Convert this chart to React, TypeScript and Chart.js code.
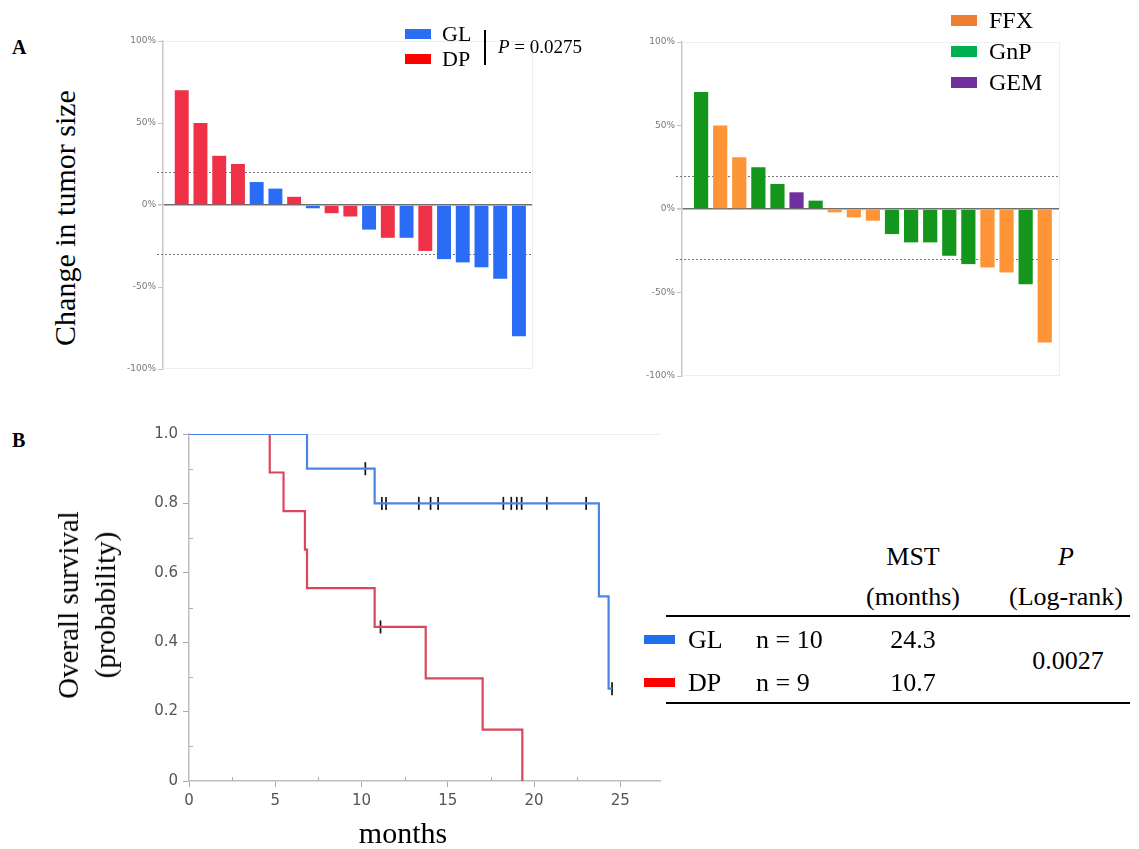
import React, { useEffect, useRef } from 'react';
import { Chart, registerables } from 'chart.js';
Chart.register(...registerables);

// ---------- data ----------
const leftValues = [70, 50, 30, 25, 14, 10, 5, -2, -5, -7, -15, -20, -20, -28, -33, -35, -38, -45, -80];
const leftGroups = ['DP', 'DP', 'DP', 'DP', 'GL', 'GL', 'DP', 'GL', 'DP', 'DP', 'GL', 'DP', 'GL', 'DP', 'GL', 'GL', 'GL', 'GL', 'GL'];
const rightValues = [70, 50, 31, 25, 15, 10, 5, -2, -5, -7, -15, -20, -20, -28, -33, -35, -38, -45, -80];
const rightGroups = ['GnP', 'FFX', 'FFX', 'GnP', 'GnP', 'GEM', 'GnP', 'FFX', 'FFX', 'FFX', 'GnP', 'GnP', 'GnP', 'GnP', 'GnP', 'FFX', 'FFX', 'GnP', 'FFX'];
const percentTicks = [-100, -50, 0, 50, 100];
const responseLines = [20, -30];

const glTimes = [0, 6.84, 10.76, 23.76, 24.32, 24.52];
const glSurv = [1, 0.9, 0.8, 0.532, 0.266, 0.266];
const dpTimes = [0, 4.68, 5.48, 6.72, 6.84, 10.76, 13.72, 17.02, 19.32];
const dpSurv = [1, 0.889, 0.778, 0.667, 0.556, 0.444, 0.296, 0.148, 0];
const glCensorTimes = [10.22, 11.18, 11.42, 13.32, 14.0, 14.44, 18.22, 18.68, 19.0, 19.28, 20.74, 23.02, 24.52];
const glCensorSurv = [0.9, 0.8, 0.8, 0.8, 0.8, 0.8, 0.8, 0.8, 0.8, 0.8, 0.8, 0.8, 0.266];
const dpCensorTimes = [11.1];
const dpCensorSurv = [0.444];
const kmMinorMonths = [2.5, 7.5, 12.5, 17.5, 22.5];
const kmMinorProb = [0.1, 0.3, 0.5, 0.7, 0.9];

const tableGroups = ['GL', 'DP'];
const tableN = ['n = 10', 'n = 9'];
const tableMST = ['24.3', '10.7'];
const logRankP = '0.0027';
const responseP = '0.0275';

// ---------- styles ----------
const barColors: Record<string, string> = {
  GL: '#2b6cf6',
  DP: '#ee3147',
  FFX: '#ff9436',
  GnP: '#14961c',
  GEM: '#7030a0',
};
const serif = '"Liberation Serif", "Times New Roman", serif';

type Box = { left: number; top: number; width: number; height: number };
type Area = { left: number; top: number; right: number; bottom: number };

const refLinesPlugin = {
  id: 'refLines',
  beforeDatasetsDraw(chart: any) {
    const { ctx, chartArea } = chart;
    const y = chart.scales.y;
    ctx.save();
    ctx.strokeStyle = '#eeeeee';
    ctx.lineWidth = 1;
    ctx.beginPath();
    ctx.moveTo(chartArea.left, chartArea.top + 0.5);
    ctx.lineTo(chartArea.right, chartArea.top + 0.5);
    ctx.moveTo(chartArea.right - 0.5, chartArea.top);
    ctx.lineTo(chartArea.right - 0.5, chartArea.bottom);
    ctx.moveTo(chartArea.left, chartArea.bottom - 0.5);
    ctx.lineTo(chartArea.right, chartArea.bottom - 0.5);
    ctx.stroke();
    ctx.strokeStyle = '#777';
    ctx.setLineDash([2, 2]);
    ctx.lineWidth = 1;
    responseLines.forEach((v) => {
      const py = Math.round(y.getPixelForValue(v)) + 0.5;
      ctx.beginPath();
      ctx.moveTo(chartArea.left - 6, py);
      ctx.lineTo(chartArea.right, py);
      ctx.stroke();
    });
    ctx.restore();
  },
};

function Waterfall({ values, groups, box, area, xMax }: { values: number[]; groups: string[]; box: Box; area: Area; xMax: number }) {
  const ref = useRef<HTMLCanvasElement>(null);
  useEffect(() => {
    const yWidth = area.left - box.left;
    const chart = new Chart(ref.current!, {
      type: 'bar',
      data: {
        datasets: [
          {
            data: values.map((v, i) => ({ x: i + 1, y: v })),
            backgroundColor: groups.map((g) => barColors[g]),
            borderWidth: 0,
            barPercentage: 0.93,
            categoryPercentage: 0.8,
          } as any,
        ],
      },
      options: {
        animation: false,
        responsive: false,
        layout: {
          padding: {
            left: 0,
            top: area.top - box.top,
            right: box.left + box.width - area.right,
            bottom: box.top + box.height - area.bottom,
          },
        },
        plugins: { legend: { display: false }, tooltip: { enabled: false } },
        scales: {
          x: { type: 'linear', min: 0, max: xMax, display: false, offset: false },
          y: {
            min: -100,
            max: 100,
            afterBuildTicks: (s: any) => {
              s.ticks = percentTicks.map((v) => ({ value: v }));
            },
            afterFit: (s: any) => {
              s.width = yWidth;
            },
            ticks: {
              callback: (v: any) => v + '%',
              font: { family: 'DejaVu Sans', size: 9 },
              color: '#777',
              padding: 2,
            },
            grid: {
              color: (c: any) => (c.tick && c.tick.value === 0 ? '#707070' : 'rgba(0,0,0,0)'),
              lineWidth: (c: any) => (c.tick && c.tick.value === 0 ? 1.6 : 1),
              tickColor: '#c4c4c4',
              tickLength: 5,
              drawTicks: true,
            },
            border: { color: '#c8c8c8', width: 1.5 },
          },
        },
      } as any,
      plugins: [refLinesPlugin],
    });
    return () => chart.destroy();
  }, []);
  return (
    <canvas
      ref={ref}
      width={box.width}
      height={box.height}
      style={{ position: 'absolute', left: box.left, top: box.top, width: box.width, height: box.height }}
    />
  );
}

const kmPlugin = {
  id: 'kmExtras',
  afterDraw(chart: any) {
    const { ctx, chartArea } = chart;
    const xs = chart.scales.x;
    const ys = chart.scales.y;
    ctx.save();
    ctx.strokeStyle = '#b0b0b0';
    ctx.lineWidth = 1;
    ctx.beginPath();
    kmMinorMonths.forEach((m) => {
      const px = Math.round(xs.getPixelForValue(m)) + 0.5;
      ctx.moveTo(px, chartArea.bottom);
      ctx.lineTo(px, chartArea.bottom - 4);
    });
    kmMinorProb.forEach((p) => {
      const py = Math.round(ys.getPixelForValue(p)) + 0.5;
      ctx.moveTo(chartArea.left, py);
      ctx.lineTo(chartArea.left + 4, py);
    });
    ctx.stroke();
    ctx.restore();
  },
};

function KMChart({ box, area, xMax }: { box: Box; area: Area; xMax: number }) {
  const ref = useRef<HTMLCanvasElement>(null);
  useEffect(() => {
    const yWidth = area.left - box.left;
    const xHeight = 30;
    const censorStyle = {
      showLine: false,
      pointStyle: 'line',
      pointRotation: 90,
      pointRadius: 6.5,
      pointBorderColor: '#111',
      pointBorderWidth: 1.7,
    };
    const chart = new Chart(ref.current!, {
      type: 'scatter',
      data: {
        datasets: [
          {
            data: glTimes.map((t, i) => ({ x: t, y: glSurv[i] })),
            showLine: true,
            stepped: true,
            borderColor: '#4a84e6',
            borderWidth: 2.2,
            pointRadius: 0,
          },
          {
            data: dpTimes.map((t, i) => ({ x: t, y: dpSurv[i] })),
            showLine: true,
            stepped: true,
            borderColor: '#d9475b',
            borderWidth: 2.2,
            pointRadius: 0,
          },
          { data: glCensorTimes.map((t, i) => ({ x: t, y: glCensorSurv[i] })), ...censorStyle },
          { data: dpCensorTimes.map((t, i) => ({ x: t, y: dpCensorSurv[i] })), ...censorStyle },
        ] as any,
      },
      options: {
        animation: false,
        responsive: false,
        layout: {
          padding: {
            left: 0,
            top: area.top - box.top,
            right: box.left + box.width - area.right,
            bottom: box.top + box.height - area.bottom - xHeight,
          },
        },
        plugins: { legend: { display: false }, tooltip: { enabled: false } },
        scales: {
          x: {
            type: 'linear',
            min: 0,
            max: xMax,
            afterFit: (s: any) => {
              s.height = xHeight;
            },
            ticks: {
              stepSize: 5,
              includeBounds: false,
              font: { family: 'DejaVu Sans', size: 15 },
              color: '#555',
              padding: 5,
              maxRotation: 0,
            },
            grid: { color: 'rgba(0,0,0,0)', tickColor: '#aaa', tickLength: 6, drawTicks: true },
            border: { color: '#bdbdbd', width: 1.5 },
          },
          y: {
            min: 0,
            max: 1,
            afterFit: (s: any) => {
              s.width = yWidth;
            },
            ticks: {
              stepSize: 0.2,
              callback: (v: any) => (Math.abs(v) < 1e-9 ? '0' : Number(v).toFixed(1)),
              font: { family: 'DejaVu Sans', size: 15 },
              color: '#555',
              padding: 5,
            },
            grid: {
              color: (c: any) => (c.tick && Math.abs(c.tick.value - 1) < 1e-6 ? '#ececec' : 'rgba(0,0,0,0)'),
              tickColor: '#aaa',
              tickLength: 6,
              drawTicks: true,
            },
            border: { color: '#bdbdbd', width: 1.5 },
          },
        },
      } as any,
      plugins: [kmPlugin],
    });
    return () => chart.destroy();
  }, []);
  return (
    <canvas
      ref={ref}
      width={box.width}
      height={box.height}
      style={{ position: 'absolute', left: box.left, top: box.top, width: box.width, height: box.height }}
    />
  );
}

function Txt({ x, y, size, children, align = 'left', style = {} }: any) {
  return (
    <div
      style={{
        position: 'absolute',
        left: x,
        top: y - size / 2,
        fontSize: size,
        lineHeight: `${size}px`,
        fontFamily: serif,
        whiteSpace: 'nowrap',
        color: '#000',
        transform: align === 'center' ? 'translateX(-50%)' : undefined,
        ...style,
      }}
    >
      {children}
    </div>
  );
}

function Swatch({ x, y, w, h, color }: any) {
  return <div style={{ position: 'absolute', left: x, top: y, width: w, height: h, background: color }} />;
}

function VText({ cx, cy, size, lineHeight, children }: any) {
  return (
    <div
      style={{
        position: 'absolute',
        left: cx,
        top: cy,
        transform: 'translate(-50%, -50%) rotate(-90deg)',
        fontFamily: serif,
        fontSize: size,
        lineHeight: `${lineHeight}px`,
        whiteSpace: 'nowrap',
        textAlign: 'center',
        color: '#000',
      }}
    >
      {children}
    </div>
  );
}

export default function App() {
  const rowY = [640, 683];
  const legendA = ['GL', 'DP'];
  const legendAColors = ['#2a6ef2', '#ff0000'];
  const legendB = ['FFX', 'GnP', 'GEM'];
  const legendBColors = ['#ed7d31', '#00b050', '#7030a0'];
  const tableColors = ['#1e6ef0', '#ff0000'];
  return (
    <div style={{ position: 'absolute', left: 0, top: 0, width: 1139, height: 849, background: '#fff', overflow: 'hidden' }}>
      <Waterfall
        values={leftValues}
        groups={leftGroups}
        box={{ left: 95, top: 25, width: 450, height: 360 }}
        area={{ left: 163, top: 41, right: 533, bottom: 369 }}
        xMax={19.75}
      />
      <Waterfall
        values={rightValues}
        groups={rightGroups}
        box={{ left: 615, top: 25, width: 460, height: 365 }}
        area={{ left: 682, top: 42, right: 1060, bottom: 376 }}
        xMax={19.8}
      />
      <KMChart box={{ left: 120, top: 420, width: 560, height: 400 }} area={{ left: 189, top: 434, right: 660, bottom: 781 }} xMax={27.3} />

      {/* panel letters */}
      <Txt x={12} y={47} size={20} style={{ fontWeight: 'bold' }}>A</Txt>
      <Txt x={12} y={440} size={20} style={{ fontWeight: 'bold' }}>B</Txt>

      {/* axis titles */}
      <VText cx={65} cy={218} size={30} lineHeight={30}>Change in tumor size</VText>
      <VText cx={87} cy={605} size={29} lineHeight={37}>
        Overall survival
        <br />
        (probability)
      </VText>
      <Txt x={403} y={833} size={30} align="center">months</Txt>

      {/* legend A left */}
      {legendA.map((g, i) => (
        <React.Fragment key={g}>
          <Swatch x={405} y={29 + i * 25} w={26} h={10} color={legendAColors[i]} />
          <Txt x={442} y={34 + i * 25} size={22}>{g}</Txt>
        </React.Fragment>
      ))}
      <div style={{ position: 'absolute', left: 484, top: 30, width: 2, height: 35, background: '#000' }} />
      <Txt x={498} y={46} size={19}>
        <i>P</i> = {responseP}
      </Txt>

      {/* legend A right */}
      {legendB.map((g, i) => (
        <React.Fragment key={g}>
          <Swatch x={951} y={15 + i * 31} w={26} h={11} color={legendBColors[i]} />
          <Txt x={989} y={20 + i * 31} size={24}>{g}</Txt>
        </React.Fragment>
      ))}

      {/* table */}
      <Txt x={913} y={557} size={26} align="center">MST</Txt>
      <Txt x={913} y={597} size={26} align="center">(months)</Txt>
      <Txt x={1066} y={557} size={26} align="center"><i>P</i></Txt>
      <Txt x={1066} y={597} size={26} align="center">(Log-rank)</Txt>
      <div style={{ position: 'absolute', left: 666, top: 615, width: 464, height: 2, background: '#000' }} />
      {tableGroups.map((g, i) => (
        <React.Fragment key={g}>
          <Swatch x={644} y={rowY[i] - 5} w={31} h={9} color={tableColors[i]} />
          <Txt x={688} y={rowY[i]} size={26}>{g}</Txt>
          <Txt x={756} y={rowY[i]} size={26}>{tableN[i]}</Txt>
          <Txt x={913} y={rowY[i]} size={26} align="center">{tableMST[i]}</Txt>
        </React.Fragment>
      ))}
      <Txt x={1068} y={661} size={26} align="center">{logRankP}</Txt>
      <div style={{ position: 'absolute', left: 666, top: 702, width: 464, height: 2, background: '#000' }} />
    </div>
  );
}
